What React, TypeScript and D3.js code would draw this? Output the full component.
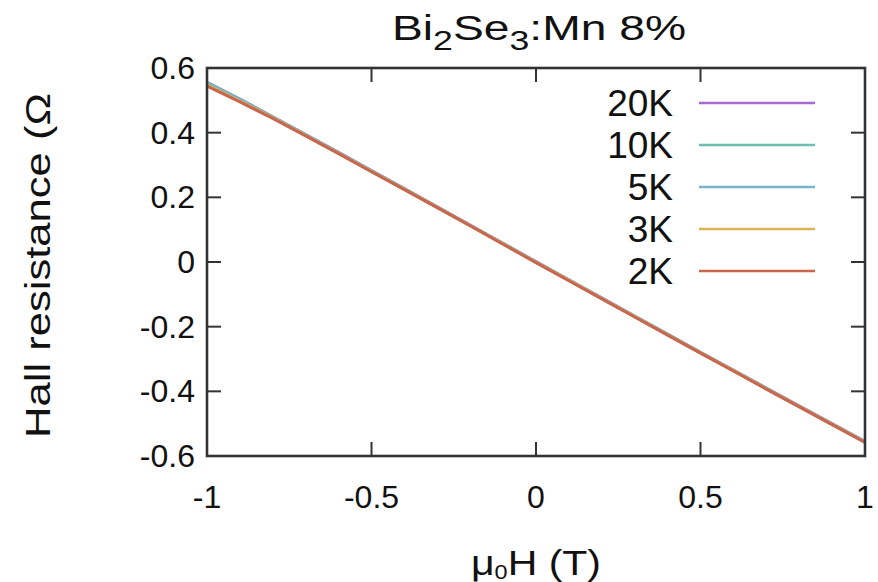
import React from "react";
import * as d3 from "d3";

const fieldT = [-1, -0.9, -0.8, -0.7, -0.6, -0.5, -0.4, -0.3, -0.2, -0.1, 0, 0.1, 0.2, 0.3, 0.4, 0.5, 0.6, 0.7, 0.8, 0.9, 1];

const r20K = [0.556, 0.504, 0.449, 0.394, 0.339, 0.283, 0.227, 0.171, 0.114, 0.058, 0.001, -0.055, -0.111, -0.167, -0.223, -0.279, -0.334, -0.390, -0.445, -0.500, -0.555];
const r10K = [0.555, 0.503, 0.448, 0.393, 0.338, 0.282, 0.226, 0.170, 0.113, 0.057, 0.000, -0.056, -0.112, -0.168, -0.224, -0.280, -0.335, -0.391, -0.446, -0.501, -0.556];
const r5K = [0.553, 0.501, 0.447, 0.392, 0.337, 0.281, 0.225, 0.169, 0.113, 0.056, 0.000, -0.056, -0.112, -0.168, -0.224, -0.280, -0.336, -0.391, -0.446, -0.501, -0.556];
const r3K = [0.548, 0.498, 0.446, 0.391, 0.336, 0.280, 0.225, 0.169, 0.112, 0.056, -0.001, -0.057, -0.113, -0.169, -0.225, -0.281, -0.336, -0.392, -0.447, -0.502, -0.557];
const r2K = [0.544, 0.495, 0.444, 0.390, 0.335, 0.279, 0.224, 0.168, 0.112, 0.055, -0.002, -0.058, -0.114, -0.170, -0.226, -0.282, -0.337, -0.393, -0.448, -0.503, -0.558];

const seriesNames = ["20K", "10K", "5K", "3K", "2K"];
const seriesValues = [r20K, r10K, r5K, r3K, r2K];
const seriesColors = ["#a46ad2", "#6cbcb0", "#78b4c8", "#dcb450", "#c8664e"];

const xTicks = [-1, -0.5, 0, 0.5, 1];
const yTicks = [-0.6, -0.4, -0.2, 0, 0.2, 0.4, 0.6];

const W = 878;
const H = 582;
const M = { left: 207, right: 865, top: 68, bottom: 456 };
const FONT = "'Liberation Sans', Arial, Helvetica, sans-serif";

export default function App() {
  const x = d3.scaleLinear().domain([-1, 1]).range([M.left, M.right]);
  const y = d3.scaleLinear().domain([-0.6, 0.6]).range([M.bottom, M.top]);
  const line = d3
    .line<number>()
    .x((_, i) => x(fieldT[i]))
    .y((d) => y(d));
  const tick = 14;
  const fmt = (v: number) => (v === 0 ? "0" : String(v));

  return (
    <svg
      width={W}
      height={H}
      style={{ position: "absolute", left: 0, top: 0, background: "#fff" }}
      fontFamily={FONT}
    >
      <rect x={0} y={0} width={W} height={H} fill="#fff" />
      <defs>
        <clipPath id="plot">
          <rect x={M.left} y={M.top} width={M.right - M.left} height={M.bottom - M.top} />
        </clipPath>
      </defs>

      {/* title */}
      <text x={392} y={40} fontSize={35} fill="#111" textLength={294} lengthAdjust="spacingAndGlyphs">
        Bi<tspan fontSize={27} dy={10}>2</tspan>
        <tspan dy={-10}>Se</tspan>
        <tspan fontSize={27} dy={10}>3</tspan>
        <tspan dy={-10}>:Mn 8%</tspan>
      </text>

      {/* data */}
      <g clipPath="url(#plot)">
        {seriesValues.map((vals, i) => (
          <path
            key={seriesNames[i]}
            d={line(vals) || ""}
            fill="none"
            stroke={seriesColors[i]}
            strokeWidth={3}
            strokeLinejoin="round"
          />
        ))}
      </g>

      {/* ticks */}
      <g stroke="#333" strokeWidth={2}>
        {xTicks.map((t) => (
          <g key={"xt" + t}>
            <line x1={x(t)} x2={x(t)} y1={M.bottom} y2={M.bottom - tick} />
            <line x1={x(t)} x2={x(t)} y1={M.top} y2={M.top + tick} />
          </g>
        ))}
        {yTicks.map((t) => (
          <g key={"yt" + t}>
            <line x1={M.left} x2={M.left + tick} y1={y(t)} y2={y(t)} />
            <line x1={M.right} x2={M.right - tick} y1={y(t)} y2={y(t)} />
          </g>
        ))}
      </g>

      {/* frame */}
      <rect
        x={M.left}
        y={M.top}
        width={M.right - M.left}
        height={M.bottom - M.top}
        fill="none"
        stroke="#333"
        strokeWidth={2.6}
      />

      {/* tick labels */}
      <g fontSize={32} fill="#111">
        {xTicks.map((t) => (
          <text key={"xl" + t} x={x(t)} y={508} textAnchor="middle">
            {fmt(t)}
          </text>
        ))}
        {yTicks.map((t) => (
          <text key={"yl" + t} x={M.left - 12} y={y(t) + 11} textAnchor="end">
            {fmt(t)}
          </text>
        ))}
      </g>

      {/* axis labels */}
      <text x={471} y={575} fontSize={35} fill="#111" textLength={130} lengthAdjust="spacingAndGlyphs">
        μ<tspan fontSize={20} dy={4}>0</tspan>
        <tspan dy={-4}>H (T)</tspan>
      </text>
      <text
        transform="translate(50,438) rotate(-90)"
        fontSize={35}
        fill="#111"
        textLength={345}
        lengthAdjust="spacingAndGlyphs"
      >
        Hall resistance (Ω
      </text>

      {/* legend */}
      <g fontSize={37} fill="#111">
        {seriesNames.map((n, i) => {
          const ly = 103 + i * 42;
          return (
            <g key={"lg" + n}>
              <text x={673} y={ly + 13} textAnchor="end">
                {n}
              </text>
              <line x1={699} x2={815} y1={ly} y2={ly} stroke={seriesColors[i]} strokeWidth={2.6} />
            </g>
          );
        })}
      </g>
    </svg>
  );
}
